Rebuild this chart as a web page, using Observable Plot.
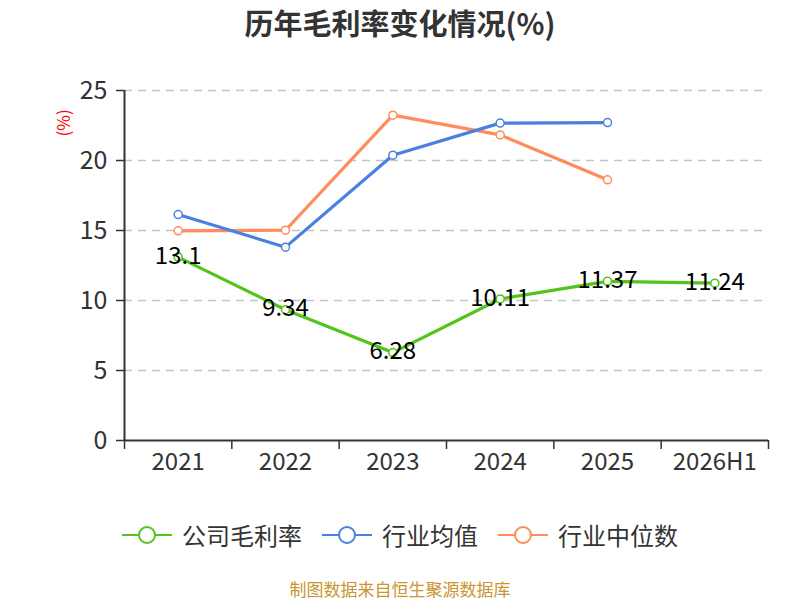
<!DOCTYPE html>
<html>
<head>
<meta charset="utf-8">
<script src="https://cdn.jsdelivr.net/npm/d3@7"></script>
<script src="https://cdn.jsdelivr.net/npm/@observablehq/plot@0.6"></script>
<style>
  body { margin: 0; background: #fff; font-family: "Noto Sans CJK SC", "Noto Sans", sans-serif; }
  #wrap { position: relative; width: 800px; height: 600px; }
  #title { position: absolute; top: 0; left: 0; width: 800px; text-align: center; font-size: 29px; font-weight: bold; color: #333; line-height: 44px; }
  #chart { position: absolute; top: 50px; left: 0; }
  #legend { position: absolute; top: 515px; left: 0; width: 800px; display: flex; justify-content: center; gap: 20px; font-size: 24px; color: #333; line-height: 40px; }
  .item { display: flex; align-items: center; }
  .item svg { margin-right: 10px; }
  #footer { position: absolute; top: 580px; left: 0; width: 800px; text-align: center; font-size: 17px; color: #c9952f; line-height: 18px; }
</style>
</head>
<body>
<div id="wrap">
  <div id="title">历年毛利率变化情况(%)</div>
  <div id="chart"></div>
  <div id="legend"></div>
  <div id="footer">制图数据来自恒生聚源数据库</div>
</div>
<script>
const years = ["2021", "2022", "2023", "2024", "2025", "2026H1"];
const companyMargin = [13.1, 9.34, 6.28, 10.11, 11.37, 11.24];
const industryAvg = [16.14, 13.81, 20.38, 22.67, 22.71];
const industryMedian = [14.98, 15.02, 23.24, 21.83, 18.62];
const seriesNames = ["公司毛利率", "行业均值", "行业中位数"];
const seriesColors = ["#52c41a", "#4a80e0", "#ff8c5a"];
const yTicks = [0, 5, 10, 15, 20, 25];

const toRows = (vals) => vals.map((v, i) => ({i, v}));
const green = toRows(companyMargin);
const blue = toRows(industryAvg);
const orange = toRows(industryMedian);

const bounds = d3.range(years.length + 1).map(k => k - 0.5);
const centers = d3.range(years.length);

const font = '"Noto Sans CJK SC", "Noto Sans", sans-serif';

const lineSet = (data, color) => [
  Plot.line(data, {x: "i", y: "v", stroke: color, strokeWidth: 3.2}),
  Plot.dot(data, {x: "i", y: "v", r: 4, fill: "white", stroke: color, strokeWidth: 1.5})
];

const chart = Plot.plot({
  width: 800,
  height: 460,
  marginTop: 40,
  marginBottom: 70,
  marginLeft: 124,
  marginRight: 32,
  style: {fontFamily: font, fontSize: "20px", color: "#333", background: "transparent"},
  x: {type: "linear", domain: [-0.5, years.length - 0.5]},
  y: {domain: [0, 25]},
  marks: [
    Plot.gridY(yTicks.filter(t => t > 0), {stroke: "#c4c4c4", strokeOpacity: 1, strokeDasharray: "8,6", strokeWidth: 1.5}),
    Plot.axisY({ticks: yTicks, tickSize: 8, tickPadding: 9, fontSize: 25, fill: "#333", stroke: "#333", strokeWidth: 1.5, label: null}),
    Plot.axisX({ticks: bounds, tickSize: 9, tickFormat: () => "", stroke: "#333", strokeWidth: 1.5, label: null}),
    Plot.axisX({ticks: centers, tickSize: 0, tickPadding: 12, tickFormat: i => years[i], fontSize: 24, fill: "#333", label: null}),
    Plot.ruleY([0], {x1: -0.5, x2: years.length - 0.5, stroke: "#333", strokeWidth: 2}),
    Plot.ruleX([-0.5], {y1: 0, y2: 25, stroke: "#333", strokeWidth: 2}),
    Plot.text(["(%)"], {frameAnchor: "top-left", dx: -67, dy: 46, rotate: -90, fill: "red", fontSize: 17}),
    ...lineSet(orange, seriesColors[2]),
    ...lineSet(blue, seriesColors[1]),
    ...lineSet(green, seriesColors[0]),
    Plot.text(green, {x: "i", y: "v", text: d => String(d.v), fill: "black", fontSize: 24, textAnchor: "middle", lineAnchor: "middle", dy: -1})
  ]
});
document.getElementById("chart").appendChild(chart);

const legend = document.getElementById("legend");
seriesNames.forEach((name, k) => {
  const item = document.createElement("div");
  item.className = "item";
  item.innerHTML = `<svg width="50" height="22"><line x1="0" y1="11" x2="50" y2="11" stroke="${seriesColors[k]}" stroke-width="2"/><circle cx="25" cy="11" r="8" fill="white" stroke="${seriesColors[k]}" stroke-width="2"/></svg><span>${name}</span>`;
  legend.appendChild(item);
});
</script>
</body>
</html>
